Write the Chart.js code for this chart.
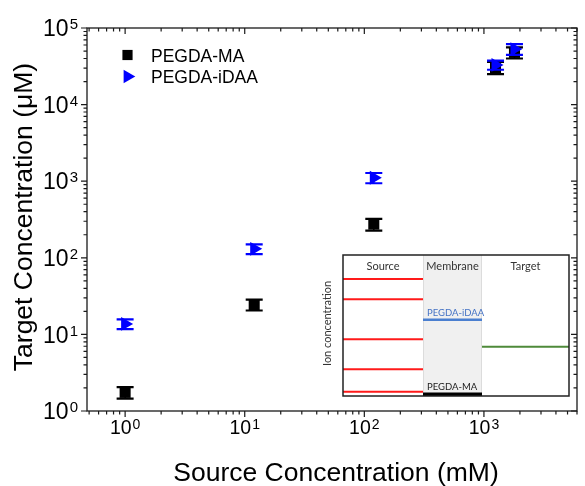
<!DOCTYPE html>
<html>
<head>
<meta charset="utf-8">
<title>Target vs Source Concentration</title>
<script src="https://cdn.jsdelivr.net/npm/chart.js@4.4.0/dist/chart.umd.min.js"></script>
<style>
    body { margin: 0; background: #fff; }
    #wrap { position: relative; width: 585px; height: 486px; }
    #main { position: absolute; left: 0; top: 0; }
    #inset { position: absolute; left: 316px; top: 254px; }
</style>
</head>
<body>
<div id="wrap">
    <canvas id="main" width="585" height="486"></canvas>
    <canvas id="inset" width="256" height="144"></canvas>
</div>
<script>
// Data
const sourceConc = [1, 12, 120, 1250, 1800];            // mM
const maTarget = [1.75, 24.5, 275, 30500, 48000];       // µM, PEGDA-MA
const maError = [0.3, 4, 48, 5500, 8000];
const idaaTarget = [13.7, 131, 1110, 33000, 53000];     // µM, PEGDA-iDAA
const idaaError = [2, 19, 170, 4500, 8500];

const xTickValues = [1, 10, 100, 1000];
const yTickValues = [1, 10, 100, 1000, 10000, 100000];

// Inset schematic (relative ion concentration levels, 0 = bottom, 1 = top)
const insetColumns = ['Source', 'Membrane', 'Target'];
const insetEdges = [0, 80, 139, 226];
const sourceLevels = [0.83, 0.686, 0.402, 0.189, 0.03];
const idaaLevel = 0.54;
const maLevel = 0.012;
const targetLevel = 0.35;

const FONT = '"Liberation Sans", Arial, sans-serif';
const INSET_FONT = 'Lato, "Open Sans", sans-serif';

// log ticks (1..9 x 10^k) inside a range
function logTicks(min, max) {
    const out = [];
    for (let e = Math.floor(Math.log10(min)); e <= Math.ceil(Math.log10(max)); e++) {
        for (let m = 1; m <= 9; m++) {
            const v = m * Math.pow(10, e);
            if (v >= min * 0.9999 && v <= max * 1.0001) out.push({ value: v, major: m === 1 });
        }
    }
    return out;
}

function powLabel(ctx, exp, x, baseline, size, supSize, raise, align) {
    ctx.font = size + 'px ' + FONT;
    const wBase = ctx.measureText('10').width;
    ctx.font = supSize + 'px ' + FONT;
    const wSup = ctx.measureText(String(exp)).width;
    const total = wBase + 1 + wSup;
    const start = align === 'center' ? x - total / 2 : x - total;
    ctx.textAlign = 'left';
    ctx.textBaseline = 'alphabetic';
    ctx.font = size + 'px ' + FONT;
    ctx.fillText('10', start, baseline);
    ctx.font = supSize + 'px ' + FONT;
    ctx.fillText(String(exp), start + wBase + 1, baseline - raise);
}

// Error bars drawn under each dataset's markers
const errorBarPlugin = {
    id: 'errorBars',
    beforeDatasetDraw(chart, args) {
        const ds = chart.data.datasets[args.index];
        if (!ds.errors) return;
        const { ctx, scales: { x, y } } = chart;
        ctx.save();
        ctx.strokeStyle = ds.pointBackgroundColor;
        ds.data.forEach((p, i) => {
            const px = x.getPixelForValue(p.x);
            const top = y.getPixelForValue(p.y + ds.errors[i]);
            const bot = y.getPixelForValue(p.y - ds.errors[i]);
            ctx.lineWidth = 1.5;
            ctx.beginPath();
            ctx.moveTo(px, top); ctx.lineTo(px, bot);
            ctx.stroke();
            ctx.lineWidth = 2.2;
            ctx.beginPath();
            ctx.moveTo(px - 8.5, top); ctx.lineTo(px + 8.5, top);
            ctx.moveTo(px - 8.5, bot); ctx.lineTo(px + 8.5, bot);
            ctx.stroke();
        });
        ctx.restore();
    }
};

// Frame, ticks, labels, titles and legend
const axesPlugin = {
    id: 'axesFrame',
    afterDraw(chart) {
        const { ctx, chartArea: a, scales: { x, y } } = chart;
        ctx.save();
        ctx.strokeStyle = '#1a1a1a';
        ctx.lineWidth = 1.3;
        ctx.strokeRect(a.left, a.top, a.right - a.left, a.bottom - a.top);

        ctx.lineWidth = 1.2;
        ctx.beginPath();
        logTicks(x.min, x.max).forEach(t => {
            const px = x.getPixelForValue(t.value);
            const len = t.major ? 6 : 3.5;
            ctx.moveTo(px, a.bottom); ctx.lineTo(px, a.bottom + len);
            ctx.moveTo(px, a.top); ctx.lineTo(px, a.top + len);
        });
        logTicks(y.min, y.max).forEach(t => {
            const py = y.getPixelForValue(t.value);
            const len = t.major ? 6 : 3.5;
            ctx.moveTo(a.left, py); ctx.lineTo(a.left - len, py);
            ctx.moveTo(a.right, py); ctx.lineTo(a.right - len, py);
        });
        ctx.stroke();

        ctx.fillStyle = '#000';
        xTickValues.forEach(v => {
            powLabel(ctx, Math.round(Math.log10(v)), x.getPixelForValue(v), a.bottom + 23, 19.5, 14, 5, 'center');
        });
        yTickValues.forEach(v => {
            powLabel(ctx, Math.round(Math.log10(v)), a.left - 9, y.getPixelForValue(v) + 8.2, 23, 15, 7, 'right');
        });

        // axis titles
        ctx.font = '26.5px ' + FONT;
        ctx.textAlign = 'center';
        ctx.textBaseline = 'alphabetic';
        ctx.fillText('Source Concentration (mM)', 336, 481);
        ctx.save();
        ctx.translate(32, 217);
        ctx.rotate(-Math.PI / 2);
        ctx.fillText('Target Concentration (\u03bcM)', 0, 0);
        ctx.restore();

        // legend
        const items = chart.data.datasets.slice().sort((p, q) => q.order - p.order);
        items.forEach((ds, i) => {
            const cy = 55 + i * 21.5;
            ctx.fillStyle = ds.pointBackgroundColor;
            Chart.helpers.drawPoint(ctx, {
                pointStyle: ds.pointStyle, radius: ds.pointStyle === 'rect' ? 7.2 : 7.8,
                rotation: ds.pointRotation || 0, borderWidth: 0
            }, 127.5, cy);
            ctx.fillStyle = '#000';
            ctx.font = '17.5px ' + FONT;
            ctx.textAlign = 'left';
            ctx.fillText(ds.label, 151, cy + 6.5);
        });
        ctx.restore();
    }
};

new Chart(document.getElementById('main'), {
    type: 'scatter',
    data: {
        datasets: [
            {
                label: 'PEGDA-MA',
                data: sourceConc.map((v, i) => ({ x: v, y: maTarget[i] })),
                errors: maError,
                pointStyle: 'rect',
                pointRadius: 7.8,
                pointBackgroundColor: '#000000',
                backgroundColor: '#000000',
                pointBorderWidth: 0,
                order: 1
            },
            {
                label: 'PEGDA-iDAA',
                data: sourceConc.map((v, i) => ({ x: v, y: idaaTarget[i] })),
                errors: idaaError,
                pointStyle: 'triangle',
                pointRotation: 90,
                pointRadius: 8,
                pointBackgroundColor: '#0000ff',
                backgroundColor: '#0000ff',
                pointBorderWidth: 0,
                order: 0
            }
        ]
    },
    options: {
        responsive: false,
        animation: false,
        layout: { padding: { left: 87, top: 28, right: 2, bottom: 75 } },
        scales: {
            x: { type: 'logarithmic', min: 0.48, max: 6000, display: false },
            y: { type: 'logarithmic', min: 1, max: 100000, display: false }
        },
        plugins: { legend: { display: false }, tooltip: { enabled: false } }
    },
    plugins: [errorBarPlugin, axesPlugin]
});

// Inset: ion concentration schematic
const insetPlugin = {
    id: 'insetDecor',
    beforeDatasetsDraw(chart) {
        const { ctx, chartArea: a, scales: { x } } = chart;
        ctx.save();
        ctx.fillStyle = '#ffffff';
        ctx.fillRect(a.left, a.top, a.right - a.left, a.bottom - a.top);
        const m0 = x.getPixelForValue(insetEdges[1]);
        const m1 = x.getPixelForValue(insetEdges[2]);
        ctx.fillStyle = '#f0f0f0';
        ctx.fillRect(m0, a.top, m1 - m0, a.bottom - a.top);
        ctx.strokeStyle = '#dcdcdc';
        ctx.lineWidth = 1;
        ctx.beginPath();
        ctx.moveTo(m0 + 0.5, a.top); ctx.lineTo(m0 + 0.5, a.bottom);
        ctx.moveTo(m1 - 0.5, a.top); ctx.lineTo(m1 - 0.5, a.bottom);
        ctx.stroke();
        ctx.restore();
    },
    afterDraw(chart) {
        const { ctx, chartArea: a, scales: { x, y } } = chart;
        ctx.save();
        ctx.strokeStyle = '#222';
        ctx.lineWidth = 1.5;
        ctx.strokeRect(a.left, a.top, a.right - a.left, a.bottom - a.top);

        ctx.fillStyle = '#333';
        ctx.font = '11px ' + INSET_FONT;
        ctx.textAlign = 'center';
        ctx.textBaseline = 'middle';
        insetColumns.forEach((name, i) => {
            const cx = (x.getPixelForValue(insetEdges[i]) + x.getPixelForValue(insetEdges[i + 1])) / 2;
            ctx.fillText(name, cx, a.top + 11);
        });

        const m0 = x.getPixelForValue(insetEdges[1]);
        ctx.textAlign = 'left';
        ctx.font = '9.5px ' + INSET_FONT;
        ctx.textBaseline = 'alphabetic';
        ctx.fillStyle = '#4472c4';
        ctx.fillText('PEGDA-iDAA', m0 + 4, y.getPixelForValue(idaaLevel) - 4);
        ctx.fillStyle = '#222';
        ctx.fillText('PEGDA-MA', m0 + 4, y.getPixelForValue(maLevel) - 4);

        ctx.fillStyle = '#333';
        ctx.font = '11px ' + INSET_FONT;
        ctx.textAlign = 'center';
        ctx.textBaseline = 'middle';
        ctx.translate(a.left - 16, (a.top + a.bottom) / 2 - 2);
        ctx.rotate(-Math.PI / 2);
        ctx.fillText('Ion concentration', 0, 0);
        ctx.restore();
    }
};

function levelLine(x0, x1, level, color, width) {
    return {
        data: [{ x: x0, y: level }, { x: x1, y: level }],
        showLine: true,
        borderColor: color,
        borderWidth: width,
        pointRadius: 0
    };
}

new Chart(document.getElementById('inset'), {
    type: 'scatter',
    data: {
        datasets: [
            ...sourceLevels.map(l => levelLine(insetEdges[0], insetEdges[1], l, '#ff1a1a', 2)),
            levelLine(insetEdges[1], insetEdges[2], idaaLevel, '#4a7fd0', 2.5),
            levelLine(insetEdges[1], insetEdges[2], maLevel, '#000000', 3.5),
            levelLine(insetEdges[2], insetEdges[3], targetLevel, '#4e8a3a', 2)
        ]
    },
    options: {
        responsive: false,
        animation: false,
        layout: { padding: { left: 27, top: 1, right: 3, bottom: 2 } },
        scales: {
            x: { type: 'linear', min: insetEdges[0], max: insetEdges[3], display: false },
            y: { type: 'linear', min: 0, max: 1, display: false }
        },
        plugins: { legend: { display: false }, tooltip: { enabled: false } }
    },
    plugins: [insetPlugin]
});
</script>
</body>
</html>
